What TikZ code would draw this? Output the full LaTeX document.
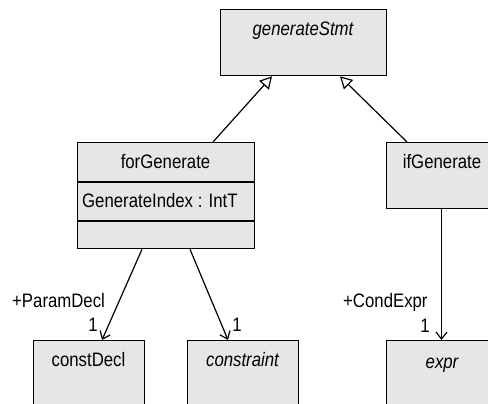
\documentclass[tikz,border=0pt]{standalone}
\usepackage{fontspec}
\setmainfont{Liberation Sans}[FakeStretch=0.86]
\usetikzlibrary{arrows.meta,calc}
\definecolor{boxgray}{RGB}{230,230,230}
\begin{document}
\begin{tikzpicture}[x=1pt,y=-1pt,
  cls/.style={draw=black, fill=boxgray, line width=1.3pt, rectangle, inner sep=0pt, anchor=north west},
  txt/.style={font=\fontsize{19.5}{23}\selectfont, inner sep=0pt, anchor=base},
  itxt/.style={font=\fontsize{19.5}{23}\selectfont\itshape, inner sep=0pt, anchor=base},
  gen/.style={draw=black, line width=1.2pt, -{Triangle[open,length=12pt,width=13pt]}},
  assoc/.style={draw=black, line width=1.2pt, -{Straight Barb[length=7pt,width=11pt]}}
]
\useasboundingbox (0,0) rectangle (488,404);
\clip (0,0) rectangle (488,404);
% boxes
\node[cls, minimum width=166pt, minimum height=66pt] (gs) at (220,9) {};
\node[cls, minimum width=177pt, minimum height=106pt] (fg) at (77,142) {};
\node[cls, minimum width=112pt, minimum height=66pt] (ig) at (386,142) {};
\node[cls, minimum width=111pt, minimum height=80pt] (cd) at (33,340) {};
\node[cls, minimum width=111pt, minimum height=80pt] (ct) at (187,340) {};
\node[cls, minimum width=112pt, minimum height=80pt] (ex) at (386,340) {};
% compartments of forGenerate
\draw[line width=1.3pt] ($(fg.north west)+(0,40)$) -- ($(fg.north east)+(0,40)$);
\draw[line width=1.3pt] ($(fg.north west)+(0,79)$) -- ($(fg.north east)+(0,79)$);
% texts
\node[itxt] (gsl) at (303,36) {generateStmt};
\node[txt] (fgl) at (165.5,168) {forGenerate};
\node[txt, anchor=base west] (fga) at (82,207) {GenerateIndex : IntT};
\node[txt] (igl) at (442,168) {ifGenerate};
\node[txt] (cdl) at (88.5,366) {constDecl};
\node[itxt] (ctl) at (242.5,366) {constraint};
\node[itxt] (exl) at (442,368) {expr};
% generalizations
\draw[gen] ($(fg.north west)+(136,0)$) -- ($(gs.south west)+(52,0)$);
\draw[gen] ($(ig.north west)+(21,0)$) -- ($(gs.south west)+(120,0)$);
% associations
\draw[assoc] ($(fg.south west)+(65,0)$) -- ($(cd.north west)+(69,0)$);
\draw[assoc] ($(fg.south west)+(113,0)$) -- ($(ct.north west)+(41,0)$);
\draw[assoc] ($(ig.north west)+(55.5,66)$) -- ($(ex.north west)+(55.5,0)$);
% role labels
\node[txt, anchor=base west] (pd) at (12,307) {+ParamDecl};
\node[txt] (pd1) at (93,331) {1};
\node[txt] (ct1) at (237,331) {1};
\node[txt, anchor=base west] (ce) at (343,307) {+CondExpr};
\node[txt] (ce1) at (425,332) {1};
\end{tikzpicture}
\end{document}
